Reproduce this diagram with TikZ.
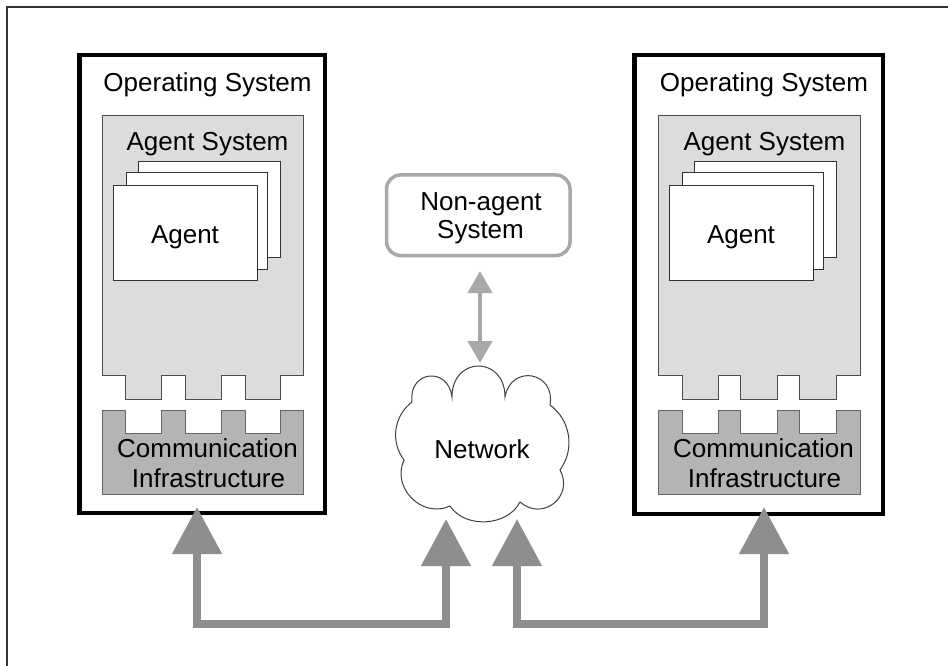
\documentclass[tikz,border=0pt]{standalone}
\usepackage{fontspec}
\setmainfont{Liberation Sans}
\usetikzlibrary{arrows.meta}
\definecolor{asfill}{HTML}{DCDCDC}
\definecolor{cifill}{HTML}{B4B4B4}
\definecolor{arrgray}{HTML}{8E8E8E}
\definecolor{nagray}{HTML}{A8A8A8}
\begin{document}
\begin{tikzpicture}[x=1pt,y=-1pt,
  font=\fontsize{26}{30}\selectfont,
  osbox/.style={draw=black, line width=4.5pt, inner sep=0pt},
  asys/.style={draw=black!70, line width=0.9pt, fill=asfill},
  agentbox/.style={draw=black!80, line width=1pt, fill=white, inner sep=0pt},
  cinf/.style={draw=black!60, line width=0.9pt, fill=cifill},
  lbl/.style={anchor=base, inner sep=0pt},
  bigarrow/.style={draw=arrgray, line width=8pt, line join=miter,
     {Triangle[width=48pt,length=47pt]}-{Triangle[width=48pt,length=47pt]}},
  dblarrow/.style={draw=nagray, line width=4pt,
     {Triangle[width=24pt,length=22pt]}-{Triangle[width=24pt,length=22pt]}},
  cloudline/.style={draw=black!75, line width=1pt, fill=white}
]
\useasboundingbox (0,0) rectangle (948,666);
% outer frame
\draw[black!80, line width=1.5pt] (7,666) -- (7,7) -- (948,7);

% left unit
\node[osbox, minimum width=245.5pt, minimum height=458pt] (osL) at (202.25,284) {};
\draw[asys] (102,115) -- (303,115) -- (303,375) -- (280,375) -- (280,399) -- (245,399) -- (245,375) -- (221,375) -- (221,399) -- (185,399) -- (185,375) -- (161,375) -- (161,399) -- (125,399) -- (125,375) -- (102,375) -- cycle;
\node[agentbox, minimum width=142pt, minimum height=95pt] (agL3) at (209,209.5) {};
\node[agentbox, minimum width=141pt, minimum height=96pt] (agL2) at (196.5,221) {};
\node[agentbox, minimum width=144pt, minimum height=95pt] (agL1) at (185,232.5) {};
\draw[cinf] (102,410) -- (125,410) -- (125,433) -- (161,433) -- (161,410) -- (185,410) -- (185,433) -- (221,433) -- (221,410) -- (245,410) -- (245,433) -- (280,433) -- (280,410) -- (303,410) -- (303,494) -- (102,494) -- cycle;
\node[lbl] (osTL) at (207.5,92) {Operating System};
\node[lbl] (asTL) at (207.5,150) {Agent System};
\node[lbl] (agTL) at (185,243) {Agent};
\node[lbl] (ciTL1) at (207.5,457) {Communication};
\node[lbl] (ciTL2) at (208.5,487) {Infrastructure};

% right unit
\begin{scope}[xshift=556pt]
\node[osbox, minimum width=248.5pt, minimum height=459pt] (osR) at (202.5,284.5) {};
\draw[asys] (102,115) -- (304,115) -- (304,375) -- (280,375) -- (280,399) -- (243,399) -- (243,375) -- (221,375) -- (221,399) -- (184,399) -- (184,375) -- (162,375) -- (162,399) -- (126,399) -- (126,375) -- (102,375) -- cycle;
\node[agentbox, minimum width=142pt, minimum height=95pt] (agR3) at (209,209.5) {};
\node[agentbox, minimum width=141pt, minimum height=96pt] (agR2) at (196.5,221) {};
\node[agentbox, minimum width=144pt, minimum height=95pt] (agR1) at (185,232.5) {};
\draw[cinf] (102,410) -- (126,410) -- (126,433) -- (162,433) -- (162,410) -- (184,410) -- (184,433) -- (221,433) -- (221,410) -- (243,410) -- (243,433) -- (280,433) -- (280,410) -- (304,410) -- (304,494) -- (102,494) -- cycle;
\node[lbl] (osTR) at (208,92) {Operating System};
\node[lbl] (asTR) at (208.5,150) {Agent System};
\node[lbl] (agTR) at (185,243) {Agent};
\node[lbl] (ciTR1) at (207.5,457) {Communication};
\node[lbl] (ciTR2) at (208.5,487) {Infrastructure};
\end{scope}

% non-agent system
\node[draw=nagray, line width=3.5pt, rounded corners=14pt, minimum width=183.5pt, minimum height=80.5pt, inner sep=0pt] (nas) at (478.25,215.25) {};
\node[lbl] (nasT1) at (481,210) {Non-agent};
\node[lbl] (nasT2) at (480.5,238) {System};

% network cloud
\draw[cloudline] (404,460) to[bend left=45] (412,402)
  to[bend left=90, looseness=2] (452,397)
  to[bend left=90, looseness=2] (505,397)
  to[bend left=90, looseness=1.9] (550,405)
  to[bend left=45] (560,470)
  to[bend left=80, looseness=1.5] (520,502)
  to[bend left=60] (450,506)
  to[bend left=70, looseness=1.2] cycle;
\node[lbl] (netT) at (482,458) {Network};

% connectors
\coordinate (naBot) at (480,271);
\coordinate (netTop) at (480,363);
\draw[dblarrow] (naBot) -- (netTop);

\coordinate (tipOSL) at (197,507);
\coordinate (tipNetL) at (446,519);
\coordinate (tipNetR) at (517,519);
\coordinate (tipOSR) at (764,507);
\draw[bigarrow] (tipOSL) -- (tipOSL |- 0,624) -- (tipNetL |- 0,624) -- (tipNetL);
\draw[bigarrow] (tipNetR) -- (tipNetR |- 0,624) -- (tipOSR |- 0,624) -- (tipOSR);
\end{tikzpicture}
\end{document}
